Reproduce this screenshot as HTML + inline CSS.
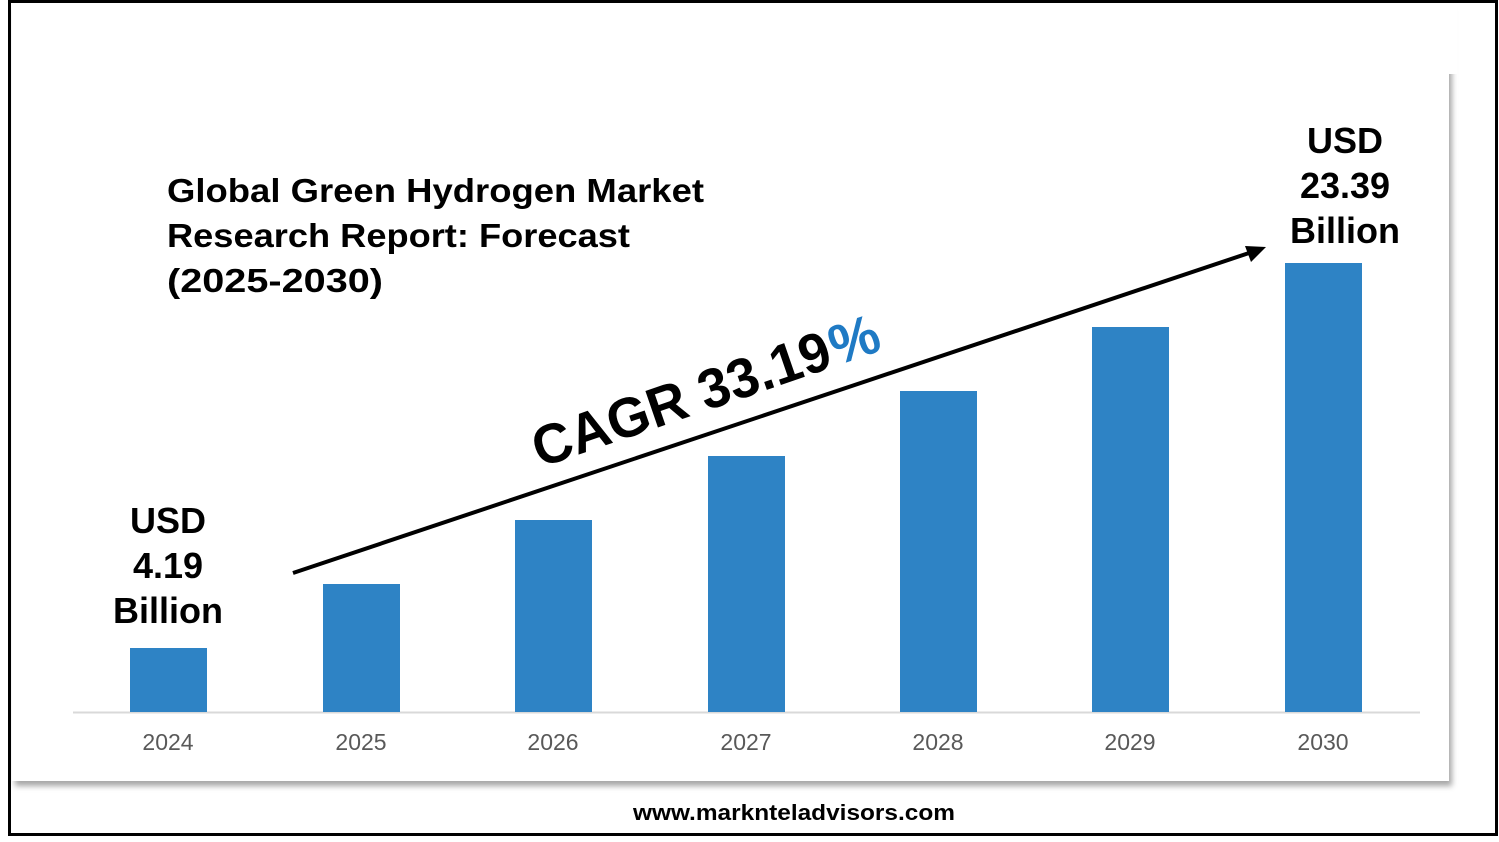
<!DOCTYPE html>
<html><head><style>
html,body{margin:0;padding:0;background:#fff;}
svg{display:block;}
text{font-family:"Liberation Sans",sans-serif;}
</style></head><body>
<svg width="1499" height="842" viewBox="0 0 1499 842" xmlns="http://www.w3.org/2000/svg">
<defs>
<filter id="sh" x="-5%" y="-5%" width="110%" height="115%">
<feDropShadow dx="3" dy="5" stdDeviation="3" flood-color="#000" flood-opacity="0.35"/>
</filter>
</defs>
<rect x="0" y="0" width="1499" height="842" fill="#fff"/>
<rect x="9.5" y="1.5" width="1487" height="833" fill="#fff" stroke="#000" stroke-width="3"/>
<rect x="12" y="4" width="1437" height="777" fill="#fff" filter="url(#sh)"/>
<rect x="12" y="4" width="1445" height="70" fill="#fff"/>
<line x1="73" y1="712.5" x2="1420" y2="712.5" stroke="#d9d9d9" stroke-width="2"/>
<g fill="#2E83C5">
<rect x="130" y="648" width="77" height="64"/>
<rect x="323" y="584" width="77" height="128"/>
<rect x="515" y="520" width="77" height="192"/>
<rect x="708" y="456" width="77" height="256"/>
<rect x="900" y="391" width="77" height="321"/>
<rect x="1092" y="327" width="77" height="385"/>
<rect x="1285" y="263" width="77" height="449"/>
</g>
<g fill="#595959" font-size="23" text-anchor="middle">
<text x="168" y="750">2024</text>
<text x="361" y="750">2025</text>
<text x="553" y="750">2026</text>
<text x="746" y="750">2027</text>
<text x="938" y="750">2028</text>
<text x="1130" y="750">2029</text>
<text x="1323" y="750">2030</text>
</g>
<g fill="#000" font-size="33" font-weight="bold">
<text x="167" y="202" textLength="537" lengthAdjust="spacingAndGlyphs">Global Green Hydrogen Market</text>
<text x="167" y="247" textLength="463" lengthAdjust="spacingAndGlyphs">Research Report: Forecast</text>
<text x="167" y="292" textLength="216" lengthAdjust="spacingAndGlyphs">(2025-2030)</text>
</g>
<g fill="#000" font-size="36" font-weight="bold" text-anchor="middle">
<text x="168" y="533">USD</text>
<text x="168" y="578">4.19</text>
<text x="168" y="623">Billion</text>
<text x="1345" y="153">USD</text>
<text x="1345" y="198">23.39</text>
<text x="1345" y="243">Billion</text>
</g>
<line x1="293" y1="573" x2="1252" y2="252" stroke="#000" stroke-width="4"/>
<polygon points="1266,247 1245,246 1251,262" fill="#000"/>
<g transform="translate(540,468) rotate(-19)">
<text x="0" y="0" font-size="56" font-weight="bold" fill="#000" textLength="312" lengthAdjust="spacingAndGlyphs">CAGR 33.19</text><text x="314" y="0" font-size="56" font-weight="bold" fill="#1f7ac4">%</text>
</g>
<text x="794" y="820" font-size="22" font-weight="bold" text-anchor="middle" fill="#000" textLength="322" lengthAdjust="spacingAndGlyphs">www.marknteladvisors.com</text>
</svg>
</body></html>
